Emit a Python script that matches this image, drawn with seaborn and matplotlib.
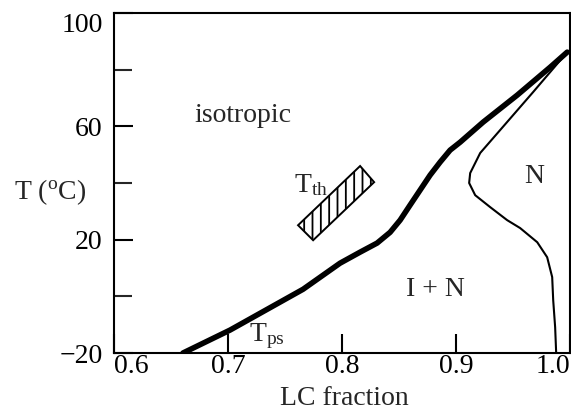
import numpy as np
import pandas as pd
import matplotlib
matplotlib.use("Agg")
import matplotlib.pyplot as plt
import seaborn as sns
from matplotlib.patches import Polygon

# I / I+N boundary (thick)
thick_x = [0.6605, 0.7018, 0.7658, 0.7982, 0.8158, 0.8307, 0.8421, 0.8509, 0.8596, 0.8684,
           0.8772, 0.8860, 0.8947, 0.9035, 0.9237, 0.9535, 0.9825, 0.9974]
thick_T = [-20.0, -11.9, 2.5, 11.7, 15.6, 18.8, 22.6, 26.9, 32.2, 37.5,
           42.8, 47.4, 51.6, 54.4, 61.5, 71.0, 80.9, 86.2]

# I+N / N boundary (thin)
thin_x = [0.9974, 0.9675, 0.9386, 0.9211, 0.9123, 0.9114, 0.9167, 0.9298, 0.9447, 0.9561,
          0.9711, 0.9798, 0.9842, 0.9851, 0.9868, 0.9877]
thin_T = [86.2, 72.1, 58.7, 50.6, 43.5, 40.0, 35.7, 31.5, 26.9, 24.1,
          19.1, 13.8, 6.8, -1.4, -10.9, -20.0]

# hatched T_th box corners
box_x = [0.7614, 0.8158, 0.8281, 0.7746]
box_T = [25.1, 46.0, 40.3, 19.8]

xticks = [0.6, 0.7, 0.8, 0.9, 1.0]
xticklabels = ["0.6", "0.7", "0.8", "0.9", "1.0"]
yticks = [-20, 20, 60, 100]
yminor = [0, 40, 80]

sns.set_style("ticks")
plt.rcParams['font.family'] = ['Liberation Serif', 'DejaVu Serif']
plt.rcParams['mathtext.fontset'] = 'custom'
plt.rcParams['mathtext.rm'] = 'Liberation Serif'
plt.rcParams['mathtext.it'] = 'Liberation Serif:italic'
plt.rcParams['hatch.linewidth'] = 1.3

fig = plt.figure(figsize=(5.71, 4.12), dpi=100)
ax = fig.add_axes([0.1996, 0.1432, 0.7990, 0.8252])

thick = pd.DataFrame({"x": thick_x, "T": thick_T})
thin = pd.DataFrame({"x": thin_x, "T": thin_T})
sns.lineplot(data=thick, x="x", y="T", sort=False, estimator=None, color="black", lw=4,
             solid_joinstyle="round", ax=ax)
sns.lineplot(data=thin, x="x", y="T", sort=False, estimator=None, color="black", lw=1.5,
             solid_joinstyle="round", ax=ax)

ax.add_patch(Polygon(np.column_stack([box_x, box_T]), closed=True, facecolor="white",
                     edgecolor="black", hatch="||", lw=1.4))

ax.set_xlim(0.6, 1.0)
ax.set_ylim(-20, 100)
ax.set_xticks(xticks)
ax.set_xticklabels(xticklabels)
ax.set_yticks(yticks)
ax.set_yticks(yminor, minor=True)
ax.tick_params(axis="both", which="major", direction="in", length=14, width=1.5,
               labelsize=20, colors="black")
ax.tick_params(axis="y", which="major", pad=8)
ax.tick_params(axis="x", which="major", pad=1)
ax.tick_params(axis="y", which="minor", direction="in", length=13, width=1.5)
for s in ax.spines.values():
    s.set_linewidth(1.5)
    s.set_color("black")

xl = ax.get_xticklabels()
xl[0].set_ha("left")
xl[-1].set_ha("right")
ax.get_yticklabels()[-1].set_va("top")

ax.set_xlabel("LC fraction", fontsize=20, va="top")
ax.xaxis.set_label_coords(0.504, -0.097)
ax.set_ylabel(r"T ($^{\rm o}$C)", fontsize=20, rotation=0, ha="center", va="center")
ax.yaxis.set_label_coords(-0.14, 0.474)

ax.text(0.7132, 64.0, "isotropic", fontsize=20, ha="center", va="center")
ax.text(0.7728, 39.2, r"T$_{\rm th}$", fontsize=20, ha="center", va="center")
ax.text(0.7342, -14.1, r"T$_{\rm ps}$", fontsize=20, ha="center", va="center")
ax.text(0.9684, 42.4, "N", fontsize=20, ha="center", va="center")
ax.text(0.8816, 2.5, "I + N", fontsize=20, ha="center", va="center")

fig.savefig("out.png", dpi=100)
